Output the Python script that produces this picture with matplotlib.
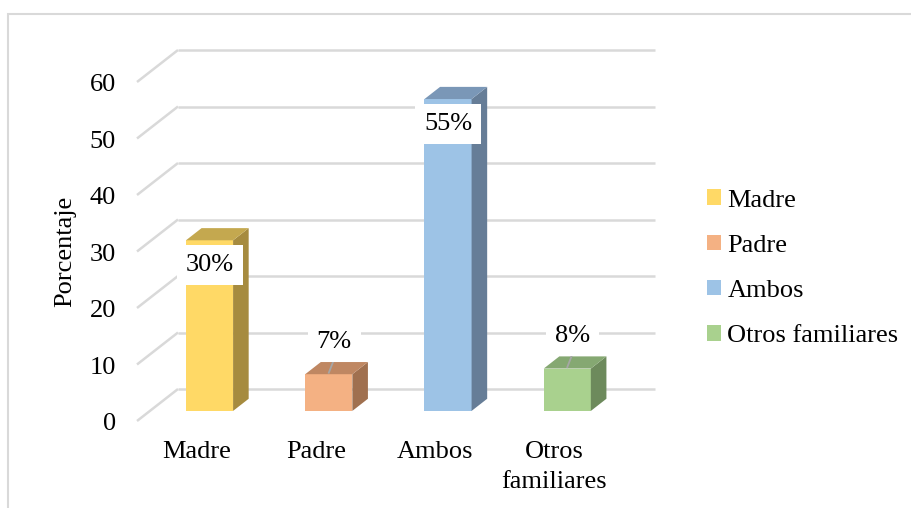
import matplotlib
matplotlib.use("Agg")
import matplotlib.pyplot as plt
from matplotlib.patches import Polygon, Rectangle, Patch

plt.rcParams['font.family'] = ['Liberation Serif', 'DejaVu Serif']

# Chart data
categories = ["Madre", "Padre", "Ambos", "Otros familiares"]
tick_names = ["Madre", "Padre", "Ambos", "Otros\nfamiliares"]
values = [30.2, 6.5, 55.2, 7.5]
value_labels = ["30%", "7%", "55%", "8%"]
y_ticks = [0, 10, 20, 30, 40, 50, 60]

front_colors = ["#FFD966", "#F4B183", "#9DC3E6", "#A9D18E"]
side_colors = ["#A68B3F", "#A0704F", "#667D97", "#6D8A5C"]
top_colors = ["#C4A84F", "#BF8762", "#7A97B7", "#85A872"]

# Pixel geometry of the pseudo-3D plot (figure 912x508 px at 100 dpi)
W, H = 912, 508
CAT_PX = 119.25   # px per category on the back wall
UNIT_PX = 5.65    # px per percentage point
BACK_LEFT_PX = 178
BACK_ZERO_PX = 389  # from the top

# oblique depth offset (back wall -> front edge), in data units
DEPTH_DX = -41 / CAT_PX
DEPTH_DY = -32 / UNIT_PX
FRONT_F = 0.685   # depth fraction of bar front face
BACK_F = 0.305    # depth fraction of bar back face
BAR_W = 0.395
FS = 19
GRID_COLOR = "#D9D9D9"


def px_to_x(p):
    return (p - BACK_LEFT_PX) / CAT_PX - 0.5


def px_to_y(q):
    return (BACK_ZERO_PX - q) / UNIT_PX


fig = plt.figure(figsize=(W / 100, H / 100), dpi=100)
ax = fig.add_axes([0, 0, 1, 1])
ax.set_xlim(px_to_x(0), px_to_x(W))
ax.set_ylim(px_to_y(H), px_to_y(0))
ax.axis("off")

# Back wall grid lines and the oblique floor-to-front lines
n = len(categories)
for v in y_ticks:
    ax.plot([-0.5, n - 0.5], [v, v], color=GRID_COLOR, lw=1.8, zorder=1,
            solid_capstyle="butt")
    ax.plot([-0.5, -0.5 + DEPTH_DX], [v, v + DEPTH_DY], color=GRID_COLOR,
            lw=1.8, zorder=1, solid_capstyle="butt")
    ax.text(px_to_x(116), v + DEPTH_DY - 1.6, str(v), ha="right",
            va="baseline", fontsize=FS)

# Bars: front faces via ax.bar, side and top faces as polygons
xs = list(range(n))
fx = [x + FRONT_F * DEPTH_DX for x in xs]
fy = FRONT_F * DEPTH_DY
sdx = (BACK_F - FRONT_F) * DEPTH_DX
sdy = (BACK_F - FRONT_F) * DEPTH_DY

ax.bar(fx, values, width=BAR_W, bottom=fy, color=front_colors, zorder=3)
for i, v in enumerate(values):
    xl = fx[i] - BAR_W / 2
    xr = fx[i] + BAR_W / 2
    top = fy + v
    side = [(xr, fy), (xr + sdx, fy + sdy), (xr + sdx, top + sdy), (xr, top)]
    roof = [(xl, top), (xr, top), (xr + sdx, top + sdy), (xl + sdx, top + sdy)]
    ax.add_patch(Polygon(side, closed=True, fc=side_colors[i], ec="none", zorder=3))
    ax.add_patch(Polygon(roof, closed=True, fc=top_colors[i], ec="none", zorder=3))

    # data labels: inside the bar for tall ones, above with a leader for short ones
    if v > 15:
        ax.text(fx[i], top - 5.4, value_labels[i], ha="center", va="baseline",
                fontsize=FS, zorder=5,
                bbox=dict(boxstyle="square,pad=0.34", fc="white", ec="none"))
    else:
        ax.text(fx[i] + 0.045, top + 4.7, value_labels[i], ha="center",
                va="baseline", fontsize=FS, zorder=5,
                bbox=dict(boxstyle="square,pad=0.34", fc="white", ec="none"))
        ax.plot([fx[i] + 0.042, fx[i] + 0.0], [top + 2.5, top + 0.25],
                color="#A6A6A6", lw=1.3, zorder=4)

# Category labels along the front edge
for i, name in enumerate(tick_names):
    ax.text(xs[i] + DEPTH_DX, px_to_y(441), name, ha="center", va="top",
            fontsize=FS, linespacing=1.5)

ax.text(px_to_x(65.5), px_to_y(251), "Porcentaje", rotation=90, ha="center",
        va="center", fontsize=FS)

# Legend
handles = [Patch(facecolor=c, edgecolor="none") for c in front_colors]
fig.legend(handles, categories, loc="upper left",
           bbox_to_anchor=(707 / W, 1 - 189.5 / H), frameon=False,
           fontsize=FS, handlelength=0.52, handleheight=0.52,
           handletextpad=0.25, labelspacing=0.88, borderpad=0,
           borderaxespad=0)

# Chart area border
fig.add_artist(Rectangle((8.5 / W, -0.1), 1.2, 1.1 - 14 / H,
                         transform=fig.transFigure, fill=False,
                         ec=GRID_COLOR, lw=1.5))

fig.savefig("out.png", dpi=100)
